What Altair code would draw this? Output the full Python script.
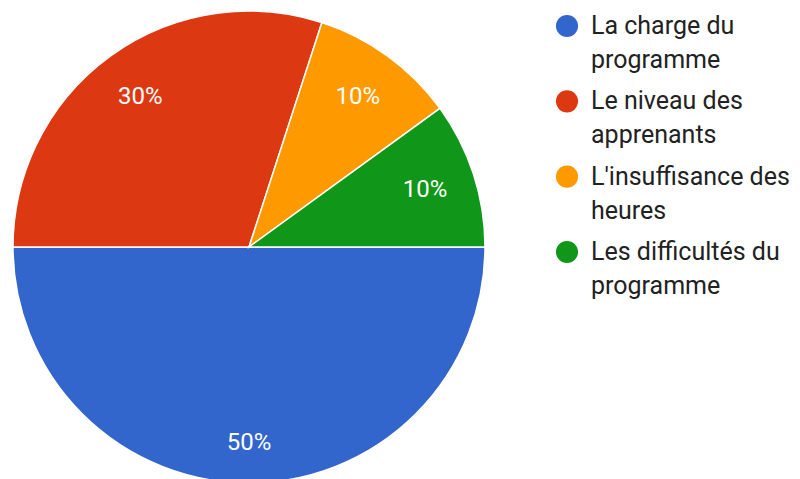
import math
import altair as alt
import pandas as pd

categories = ["La charge du programme", "Le niveau des apprenants",
              "L'insuffisance des heures", "Les difficultés du programme"]
legend_labels = ["La charge du\nprogramme", "Le niveau des\napprenants",
                 "L'insuffisance des\nheures", "Les difficultés du\nprogramme"]
values = [50, 30, 10, 10]
colors = ["#3366CC", "#DC3912", "#FF9900", "#109618"]

df = pd.DataFrame({
    "cat": categories,
    "leg": legend_labels,
    "value": values,
    "idx": list(range(len(categories))),
})

color = alt.Color("cat:N", scale=alt.Scale(domain=categories, range=colors), legend=None)
theta = alt.Theta("value:Q", stack=True,
                  scale=alt.Scale(range=[math.pi / 2, math.pi / 2 + 2 * math.pi]))
order = alt.Order("idx:Q")

cx, cy = 241, 239

base = alt.Chart(df)

pie = base.mark_arc(outerRadius=236, stroke="white", strokeWidth=1.5).encode(
    theta=theta, color=color, order=order,
    x=alt.value(cx), y=alt.value(cy),
)

lab_base = base.transform_calculate(pct="datum.value + '%'")

labels_small = lab_base.mark_text(
    font="Roboto", fontSize=24, color="white", baseline="middle", align="center", radius=185
).encode(
    theta=theta, order=order,
    text=alt.condition("datum.value < 50", "pct:N", alt.value("")),
    x=alt.value(cx), y=alt.value(cy),
)

labels_big = lab_base.mark_text(
    font="Roboto", fontSize=24, color="white", baseline="middle", align="center", radius=196
).encode(
    theta=theta, order=order,
    text=alt.condition("datum.value >= 50", "pct:N", alt.value("")),
    x=alt.value(cx), y=alt.value(cy),
)

yscale = alt.Scale(domain=[0, 3], range=[18, 244])

leg_sym = base.mark_circle(size=490, opacity=1).encode(
    x=alt.value(559),
    y=alt.Y("idx:Q", scale=yscale, axis=None),
    color=color,
)

leg_txt = base.mark_text(font="Roboto", fontSize=25, color="#222222", align="left",
                         baseline="alphabetic", dy=8, lineBreak="\n", lineHeight=34).encode(
    x=alt.value(583),
    y=alt.Y("idx:Q", scale=yscale, axis=None),
    text="leg:N",
)

chart = alt.layer(pie, labels_small, labels_big, leg_sym, leg_txt).properties(
    width=784, height=471, padding=0, autosize="none", background="white"
).configure_view(stroke=None)

chart.save("out.html", embed_options={"renderer": "svg", "actions": False})
